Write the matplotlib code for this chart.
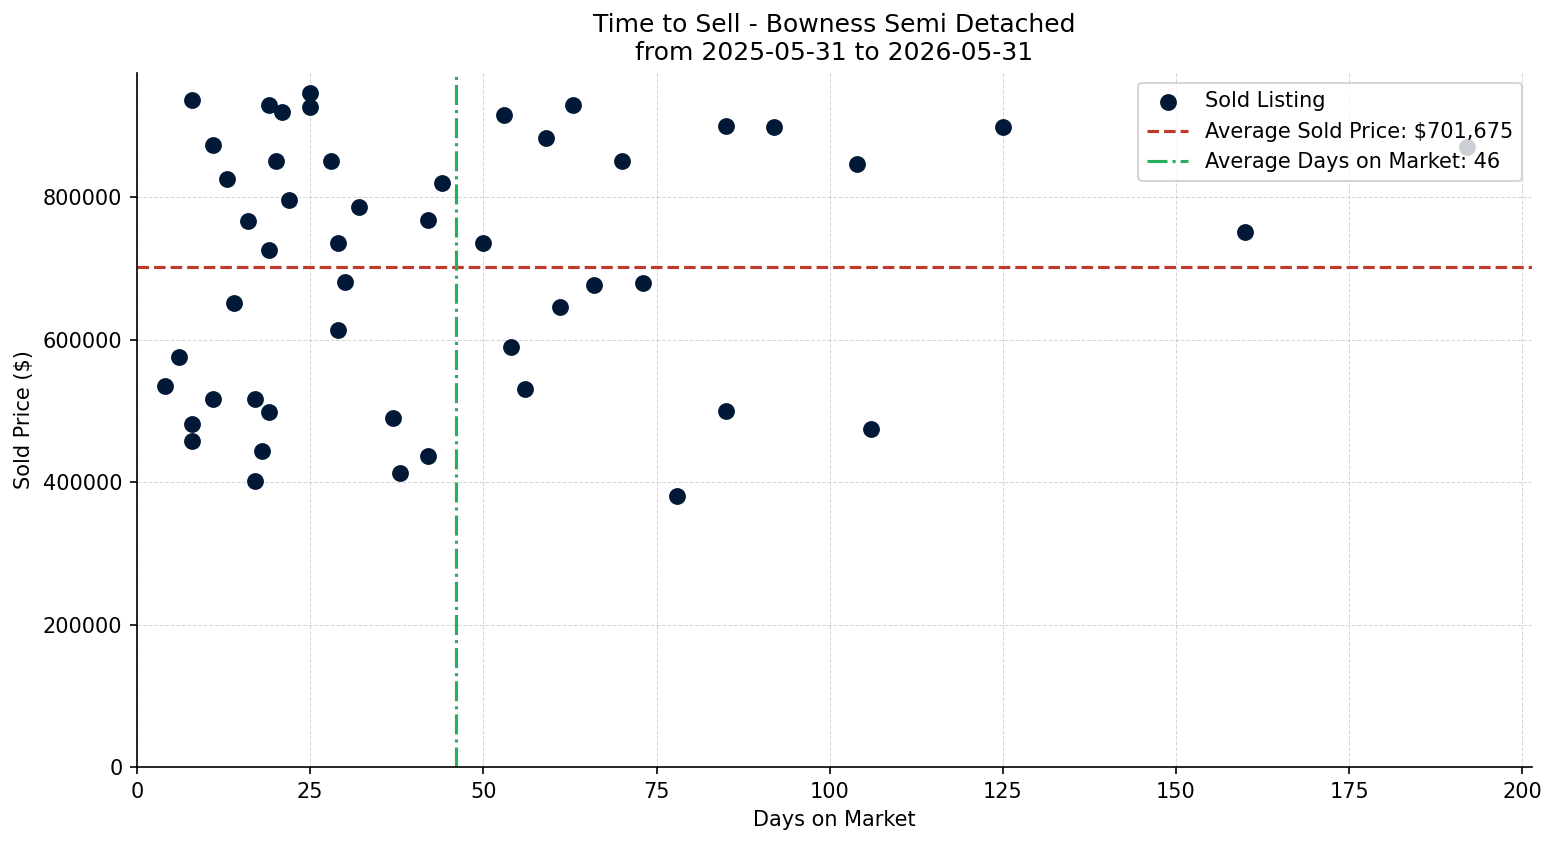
import matplotlib
matplotlib.use("Agg")
import matplotlib.pyplot as plt

# Sold listings: days on market and sold price
days_on_market = [4, 6, 8, 8, 8, 11, 11, 13, 14, 16, 17, 17, 18, 19, 19, 19, 20, 21, 22, 25,
                  25, 28, 29, 29, 30, 32, 37, 38, 42, 42, 44, 50, 53, 54, 56, 59, 61, 63, 66, 70,
                  73, 78, 85, 85, 92, 104, 106, 125, 160, 192]
sold_price = [535000, 575000, 936000, 481000, 457000, 873000, 516000, 825000, 651000, 766000,
              517000, 401000, 443000, 929000, 725000, 499000, 850000, 919000, 796000, 946000,
              926000, 850000, 735000, 614000, 680000, 786000, 490000, 413000, 768000, 436000,
              820000, 735000, 915000, 590000, 530000, 883000, 645000, 929000, 676000, 850000,
              679000, 380000, 900000, 500000, 898000, 846000, 474000, 898000, 751000, 870000]

avg_price = 701675
avg_days = 46

title = "Time to Sell - Bowness Semi Detached\nfrom 2025-05-31 to 2026-05-31"

fig, ax = plt.subplots(figsize=(1557 / 150, 845 / 150), dpi=150)
fig.subplots_adjust(left=0.088, right=0.984, top=0.914, bottom=0.092)

ax.scatter(days_on_market, sold_price, s=50, color="#011936", label="Sold Listing", zorder=3)
ax.axhline(avg_price, color="#c0392b", linestyle="--", linewidth=1.5,
           label=f"Average Sold Price: ${avg_price:,}")
ax.axvline(avg_days, color="#27ae60", linestyle="-.", linewidth=1.5,
           label=f"Average Days on Market: {avg_days}")

ax.set_xlim(left=0)
ax.set_ylim(bottom=0)
ax.set_xlabel("Days on Market")
ax.set_ylabel("Sold Price ($)")
ax.set_title(title, fontsize=12)
ax.grid(True, linestyle="--", linewidth=0.5, alpha=0.5)
ax.spines["top"].set_visible(False)
ax.spines["right"].set_visible(False)
leg = ax.legend(loc="upper right")
leg.set_zorder(5)

plt.savefig("out.png", dpi=150)
